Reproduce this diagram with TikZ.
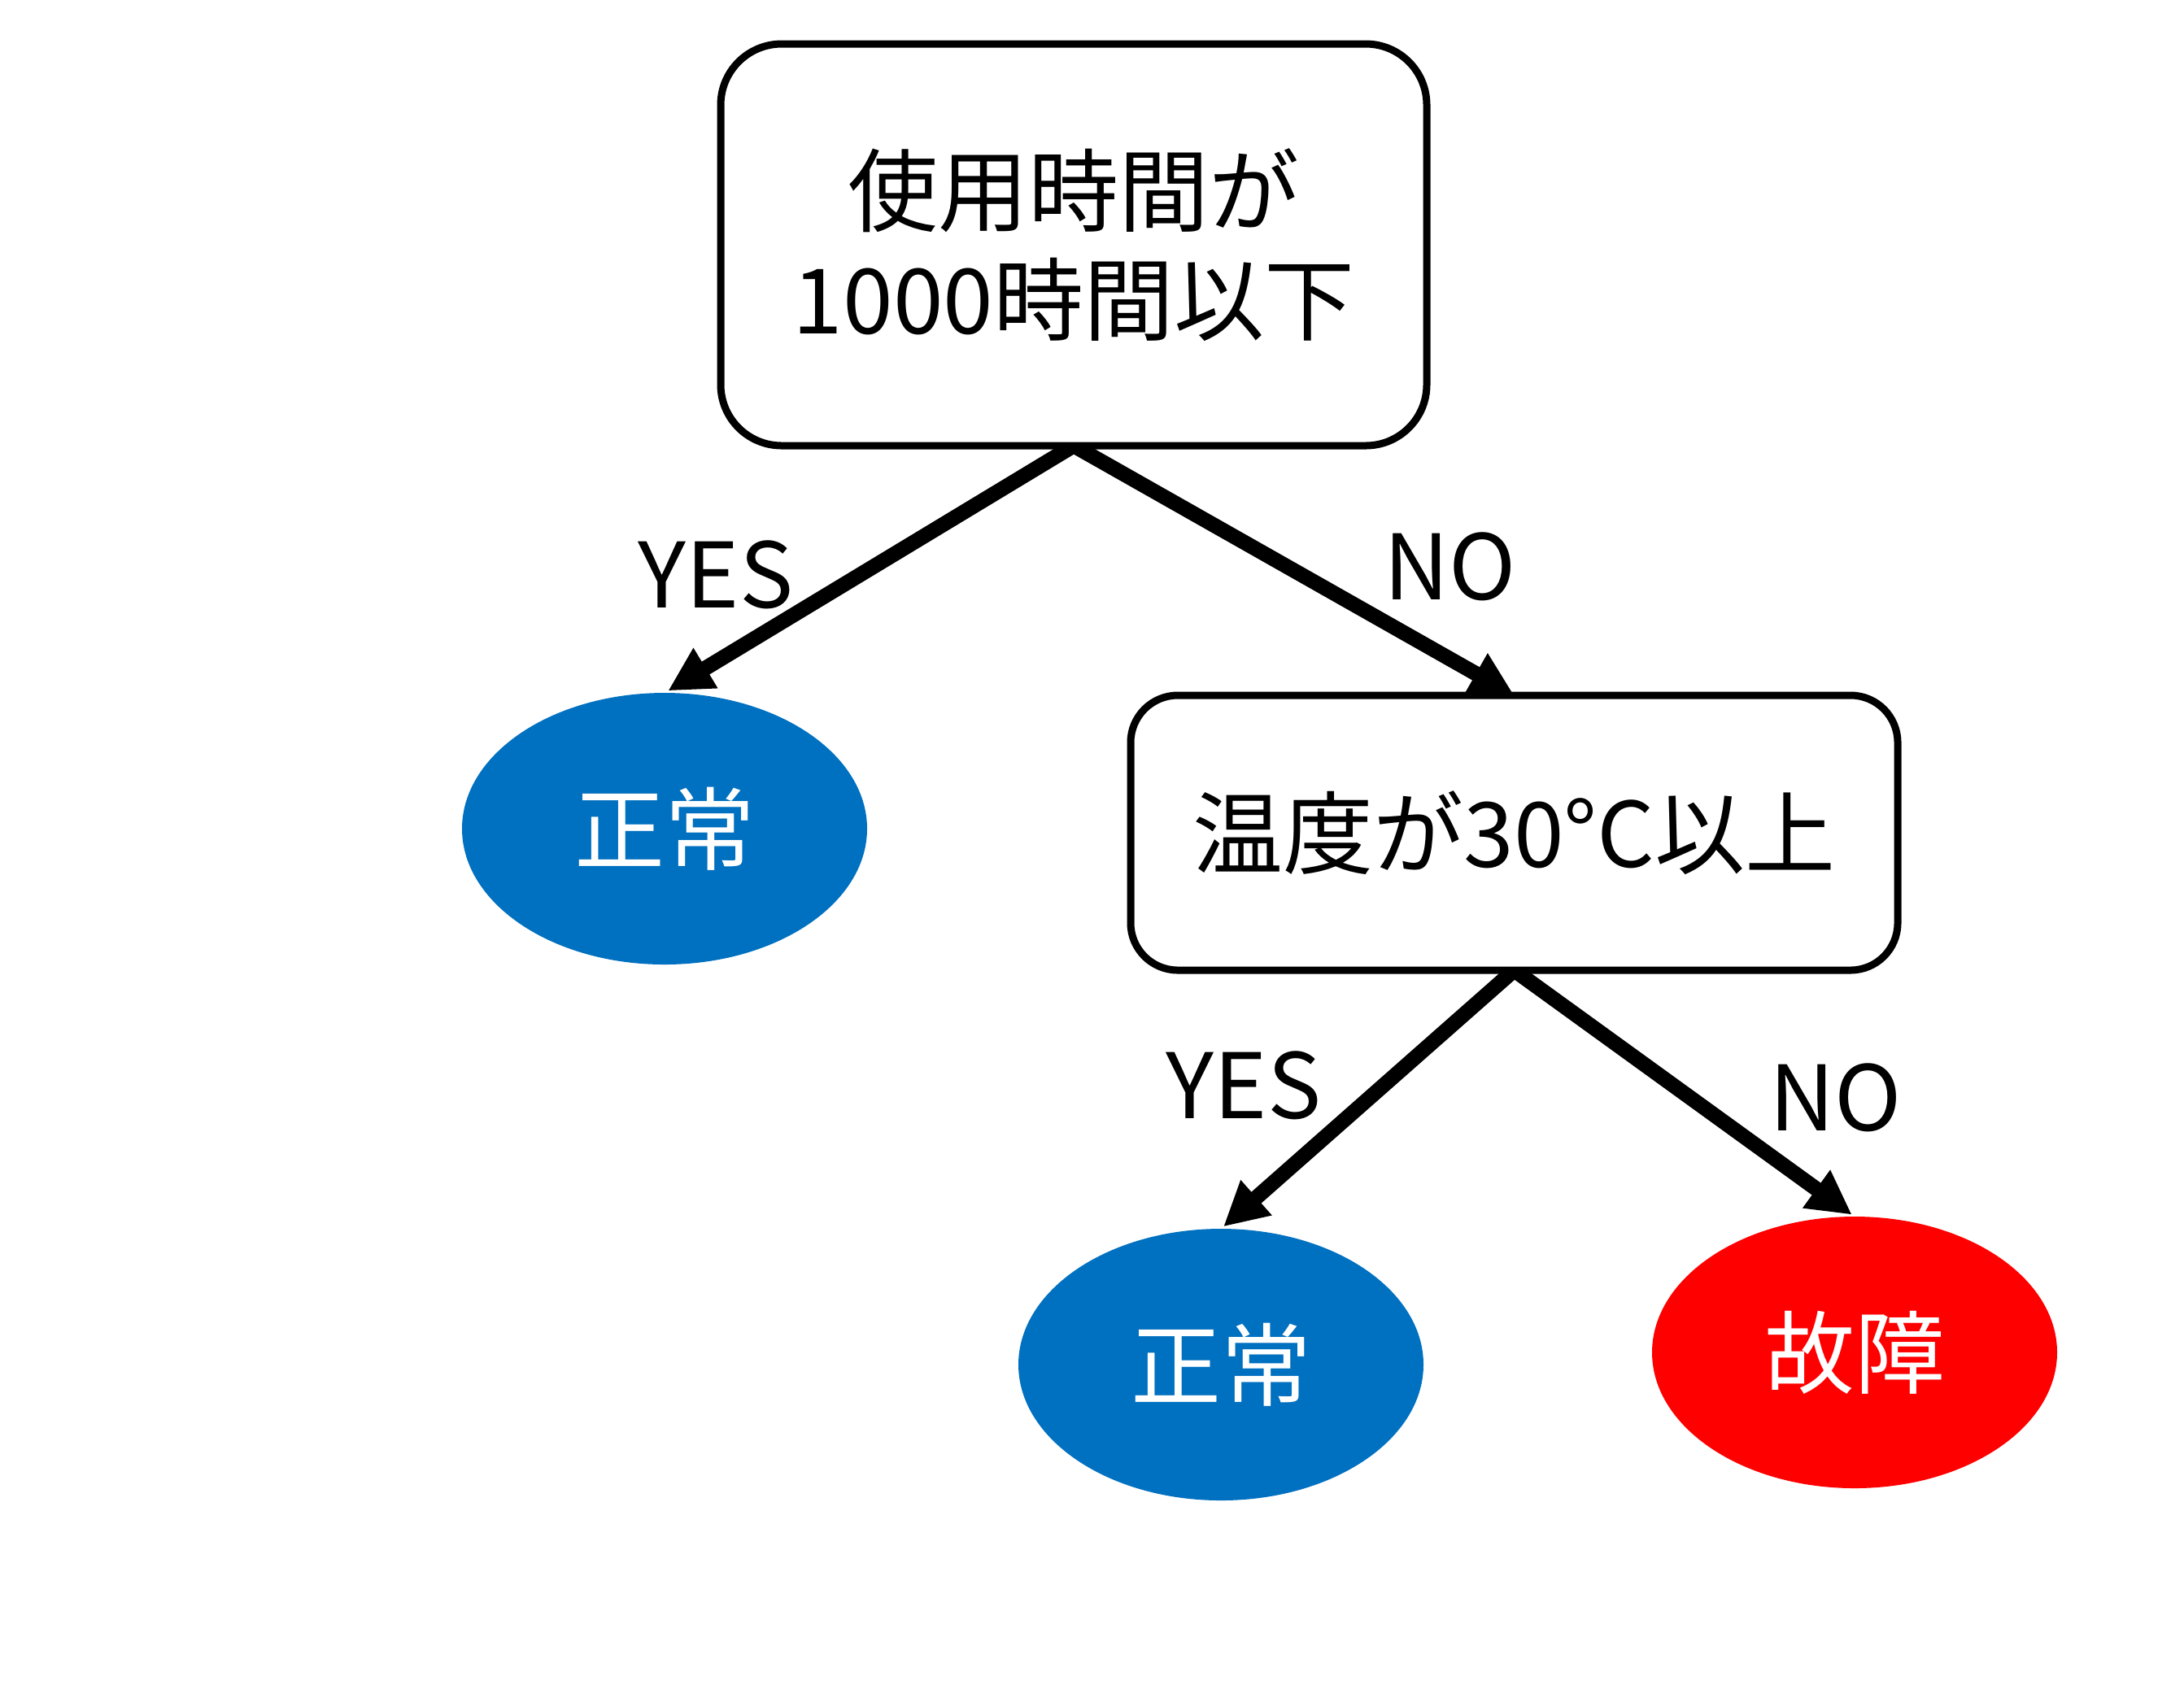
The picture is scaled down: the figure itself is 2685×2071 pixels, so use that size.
\documentclass[tikz,border=0pt]{standalone}
\usepackage{fontspec}
\setmainfont{Noto Sans CJK JP}
\usetikzlibrary{arrows.meta,shapes.geometric,backgrounds}
\definecolor{okblue}{HTML}{0070C0}
\definecolor{ngred}{HTML}{FF0000}
\begin{document}
\begin{tikzpicture}[x=0.25pt,y=-0.25pt,
  decbox/.style={draw=black, line width=2.25pt, rounded corners=18.75pt, fill=white, inner sep=0pt, outer sep=0pt, align=center, font=\fontsize{27.75pt}{33.5pt}\selectfont},
  leaf/.style={ellipse, draw=none, minimum width=124.5pt, minimum height=83.5pt, inner sep=0pt, outer sep=0pt, text=white, font=\fontsize{27.75pt}{33.5pt}\selectfont},
  lbl/.style={inner sep=0pt, font=\fontsize{27.75pt}{33.5pt}\selectfont},
  arr/.style={line width=4.6pt, -{Triangle[length=13.5pt,width=13.5pt]}}
]
\useasboundingbox (0,0) rectangle (2685,2071);
\node[decbox, minimum width=217pt, minimum height=123.5pt] (q1) at (1320,301) {使用時間が\\1000時間以下};
\node[decbox, minimum width=235.75pt, minimum height=84.5pt, rounded corners=14.5pt] (q2) at (1861.5,1024) {温度が30°C以上};
\node[leaf, fill=okblue] (l1) at (817,1019) {正常};
\node[leaf, fill=okblue] (l2) at (1501,1678) {正常};
\node[leaf, fill=ngred] (l3) at (2280,1663) {故障};
\node[lbl] (y1) at (880,707) {YES};
\node[lbl] (n1) at (1783,697) {NO};
\node[lbl] (y2) at (1529,1335) {YES};
\node[lbl] (n2) at (2257,1350) {NO};
\begin{pgfonlayer}{background}
\draw[arr, shorten >=1.25pt] (q1.south) -- (l1.north);
\draw[arr] (q1.south) -- (q2.north);
\draw[arr, shorten >=1pt] (q2.south) -- (l2.north);
\draw[arr, shorten >=1pt] (q2.south) -- (l3.north);
\end{pgfonlayer}
\end{tikzpicture}
\end{document}
